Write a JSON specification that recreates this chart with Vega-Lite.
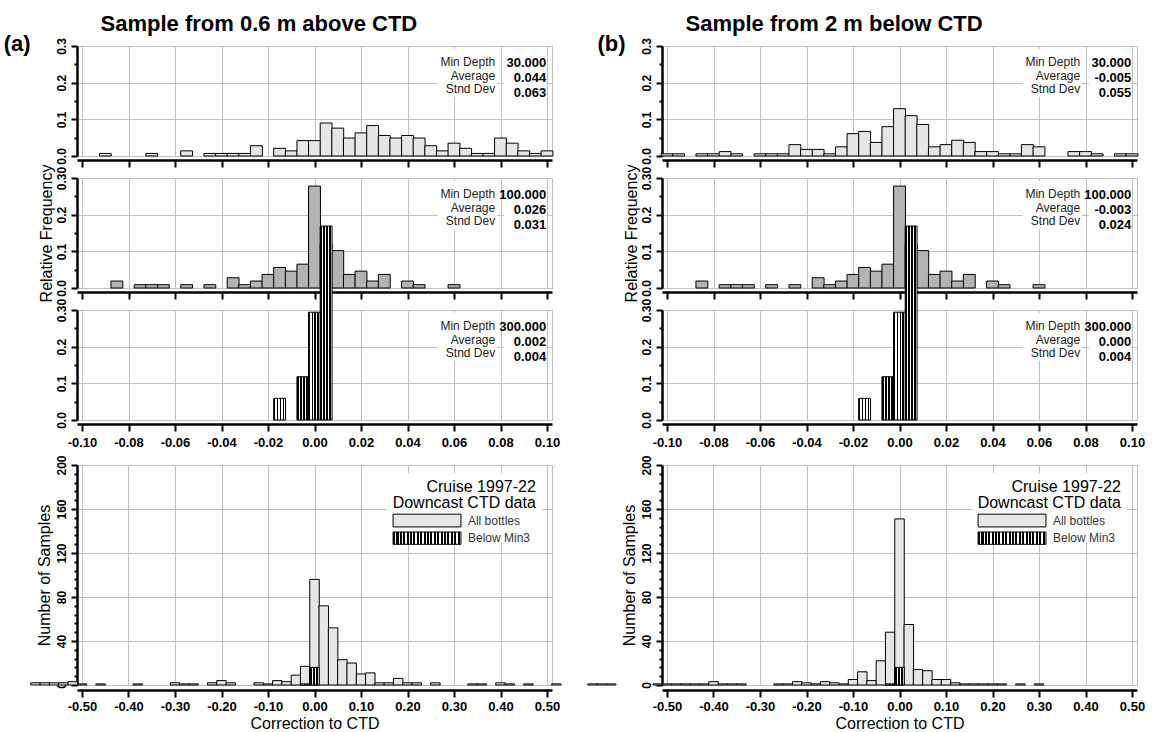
{
  "$schema": "https://vega.github.io/schema/vega-lite/v6.json",
  "background": "white",
  "padding": {"left": 3, "top": 12, "right": 4, "bottom": 4},
  "config": {
    "font": "Liberation Sans",
    "view": {"stroke": "#c0c0c0", "strokeWidth": 1},
    "axis": {
      "domainColor": "#000", "domainWidth": 2.5,
      "tickColor": "#000", "tickWidth": 2,
      "gridColor": "#c0c0c0", "gridWidth": 1,
      "labelFont": "Liberation Sans", "labelFontWeight": "bold", "labelColor": "#000",
      "titleFont": "Liberation Sans", "titleFontWeight": "normal", "titleColor": "#000",
      "labelFlush": false, "labelOverlap": false, "tickCount": 100
    },
    "axisY": {"labelFontSize": 12},
    "text": {"font": "Liberation Sans", "color": "#000"}
  },
  "datasets": {
    "a30": [
      {"x": -0.09, "freq": 0.007}, {"x": -0.07, "freq": 0.007}, {"x": -0.055, "freq": 0.014},
      {"x": -0.045, "freq": 0.007}, {"x": -0.04, "freq": 0.007}, {"x": -0.035, "freq": 0.007},
      {"x": -0.03, "freq": 0.007}, {"x": -0.025, "freq": 0.028}, {"x": -0.015, "freq": 0.021},
      {"x": -0.01, "freq": 0.014}, {"x": -0.005, "freq": 0.042}, {"x": 0, "freq": 0.042},
      {"x": 0.005, "freq": 0.09}, {"x": 0.01, "freq": 0.076}, {"x": 0.015, "freq": 0.049},
      {"x": 0.02, "freq": 0.063}, {"x": 0.025, "freq": 0.083}, {"x": 0.03, "freq": 0.056},
      {"x": 0.035, "freq": 0.049}, {"x": 0.04, "freq": 0.056}, {"x": 0.045, "freq": 0.049},
      {"x": 0.05, "freq": 0.028}, {"x": 0.055, "freq": 0.014}, {"x": 0.06, "freq": 0.035},
      {"x": 0.065, "freq": 0.021}, {"x": 0.07, "freq": 0.007}, {"x": 0.075, "freq": 0.007},
      {"x": 0.08, "freq": 0.049}, {"x": 0.085, "freq": 0.035}, {"x": 0.09, "freq": 0.014},
      {"x": 0.095, "freq": 0.007}, {"x": 0.1, "freq": 0.014}
    ],
    "b30": [
      {"x": -0.1, "freq": 0.006}, {"x": -0.095, "freq": 0.006}, {"x": -0.085, "freq": 0.006},
      {"x": -0.08, "freq": 0.006}, {"x": -0.075, "freq": 0.012}, {"x": -0.07, "freq": 0.006},
      {"x": -0.06, "freq": 0.006}, {"x": -0.055, "freq": 0.006}, {"x": -0.05, "freq": 0.006},
      {"x": -0.045, "freq": 0.031}, {"x": -0.04, "freq": 0.018}, {"x": -0.035, "freq": 0.018},
      {"x": -0.03, "freq": 0.006}, {"x": -0.025, "freq": 0.025}, {"x": -0.02, "freq": 0.061},
      {"x": -0.015, "freq": 0.067}, {"x": -0.01, "freq": 0.037}, {"x": -0.005, "freq": 0.08},
      {"x": 0, "freq": 0.129}, {"x": 0.005, "freq": 0.11}, {"x": 0.01, "freq": 0.086},
      {"x": 0.015, "freq": 0.025}, {"x": 0.02, "freq": 0.031}, {"x": 0.025, "freq": 0.043},
      {"x": 0.03, "freq": 0.037}, {"x": 0.035, "freq": 0.012}, {"x": 0.04, "freq": 0.012},
      {"x": 0.045, "freq": 0.006}, {"x": 0.05, "freq": 0.006}, {"x": 0.055, "freq": 0.031},
      {"x": 0.06, "freq": 0.025}, {"x": 0.075, "freq": 0.012}, {"x": 0.08, "freq": 0.012},
      {"x": 0.085, "freq": 0.006}, {"x": 0.095, "freq": 0.006}, {"x": 0.1, "freq": 0.006}
    ],
    "d100": [
      {"x": -0.085, "freq": 0.019}, {"x": -0.075, "freq": 0.009}, {"x": -0.07, "freq": 0.009},
      {"x": -0.065, "freq": 0.009}, {"x": -0.055, "freq": 0.009}, {"x": -0.045, "freq": 0.009},
      {"x": -0.035, "freq": 0.028}, {"x": -0.03, "freq": 0.009}, {"x": -0.025, "freq": 0.019},
      {"x": -0.02, "freq": 0.037}, {"x": -0.015, "freq": 0.056}, {"x": -0.01, "freq": 0.046},
      {"x": -0.005, "freq": 0.065}, {"x": 0, "freq": 0.278}, {"x": 0.005, "freq": 0.12},
      {"x": 0.01, "freq": 0.102}, {"x": 0.015, "freq": 0.037}, {"x": 0.02, "freq": 0.046},
      {"x": 0.025, "freq": 0.019}, {"x": 0.03, "freq": 0.037}, {"x": 0.04, "freq": 0.019},
      {"x": 0.045, "freq": 0.009}, {"x": 0.06, "freq": 0.009}
    ],
    "d300": [
      {"x": -0.015, "freq": 0.059}, {"x": -0.005, "freq": 0.118},
      {"x": 0, "freq": 0.294}, {"x": 0.005, "freq": 0.529}
    ],
    "aAll": [
      {"x": -0.6, "n": 2}, {"x": -0.58, "n": 2}, {"x": -0.56, "n": 2}, {"x": -0.54, "n": 2},
      {"x": -0.52, "n": 3}, {"x": -0.5, "n": 1}, {"x": -0.46, "n": 1}, {"x": -0.38, "n": 1},
      {"x": -0.3, "n": 2}, {"x": -0.28, "n": 1}, {"x": -0.26, "n": 1}, {"x": -0.22, "n": 2},
      {"x": -0.2, "n": 4}, {"x": -0.18, "n": 2}, {"x": -0.12, "n": 2}, {"x": -0.1, "n": 1},
      {"x": -0.08, "n": 4}, {"x": -0.06, "n": 3}, {"x": -0.04, "n": 9}, {"x": -0.02, "n": 17},
      {"x": 0, "n": 96}, {"x": 0.02, "n": 72}, {"x": 0.04, "n": 52}, {"x": 0.06, "n": 23},
      {"x": 0.08, "n": 20}, {"x": 0.1, "n": 10}, {"x": 0.12, "n": 11}, {"x": 0.14, "n": 2},
      {"x": 0.16, "n": 2}, {"x": 0.18, "n": 6}, {"x": 0.2, "n": 2}, {"x": 0.22, "n": 2},
      {"x": 0.26, "n": 2}, {"x": 0.34, "n": 1}, {"x": 0.36, "n": 1}, {"x": 0.4, "n": 2},
      {"x": 0.42, "n": 1}, {"x": 0.46, "n": 1}, {"x": 0.52, "n": 1}
    ],
    "bAll": [
      {"x": -0.66, "n": 1}, {"x": -0.64, "n": 1}, {"x": -0.62, "n": 1}, {"x": -0.52, "n": 1},
      {"x": -0.5, "n": 1}, {"x": -0.48, "n": 1}, {"x": -0.46, "n": 1}, {"x": -0.44, "n": 1},
      {"x": -0.42, "n": 1}, {"x": -0.4, "n": 3}, {"x": -0.38, "n": 1}, {"x": -0.36, "n": 1},
      {"x": -0.34, "n": 1}, {"x": -0.26, "n": 1}, {"x": -0.24, "n": 1}, {"x": -0.22, "n": 3},
      {"x": -0.2, "n": 2}, {"x": -0.18, "n": 1}, {"x": -0.16, "n": 3}, {"x": -0.14, "n": 2},
      {"x": -0.12, "n": 1}, {"x": -0.1, "n": 5}, {"x": -0.08, "n": 12}, {"x": -0.06, "n": 4},
      {"x": -0.04, "n": 22}, {"x": -0.02, "n": 48}, {"x": 0, "n": 151}, {"x": 0.02, "n": 55},
      {"x": 0.04, "n": 14}, {"x": 0.06, "n": 13}, {"x": 0.08, "n": 5}, {"x": 0.1, "n": 5},
      {"x": 0.12, "n": 2}, {"x": 0.14, "n": 1}, {"x": 0.16, "n": 1}, {"x": 0.18, "n": 1},
      {"x": 0.2, "n": 1}, {"x": 0.22, "n": 1}, {"x": 0.26, "n": 1}, {"x": 0.3, "n": 1}
    ],
    "min3": [{"x": -0.02, "n": 1}, {"x": 0, "n": 16}]
  },
  "columns": 2,
  "spacing": {"row": 22, "column": 110},
  "bounds": "flush",
  "concat": [
    {
      "width": 475, "height": 110,
      "data": {"name": "a30"},
      "layer": [
        {
          "mark": {"type": "bar", "orient": "vertical", "width": 11.875, "fill": "#e6e6e6", "stroke": "#000", "strokeWidth": 1},
          "encoding": {
            "x": {"field": "x", "type": "quantitative", "scale": {"domain": [-0.1, 0.1], "nice": false, "zero": false},
              "axis": {"values": [-0.1, -0.08, -0.06, -0.04, -0.02, 0, 0.02, 0.04, 0.06, 0.08, 0.1], "labels": false, "offset": 4, "tickSize": 7, "title": null}},
            "y": {"field": "freq", "type": "quantitative", "scale": {"domain": [0, 0.3], "nice": false},
              "axis": {"values": [0, 0.05, 0.1, 0.15, 0.2, 0.25, 0.3],
                "labelExpr": "abs(datum.value*10-round(datum.value*10))<0.001 ? format(datum.value,'.1f') : ''",
                "tickSize": {"condition": {"test": "abs(datum.value*10-round(datum.value*10))<0.001", "value": 6}, "value": 3},
                "gridOpacity": {"condition": {"test": "abs(datum.value*10-round(datum.value*10))<0.001", "value": 1}, "value": 0},
                "labelAngle": -90, "labelAlign": "center", "labelBaseline": "bottom", "labelPadding": 3, "title": null}}
          }
        },
        {"data": {"values": [{}]}, "mark": {"type": "rect", "fill": "white"},
          "encoding": {"x": {"datum": 0.053, "type": "quantitative"}, "x2": {"datum": 0.0785}, "y": {"datum": 0.16, "type": "quantitative"}, "y2": {"datum": 0.292}}},
        {"data": {"values": [{}]}, "mark": {"type": "rect", "fill": "white"},
          "encoding": {"x": {"datum": 0.0815, "type": "quantitative"}, "x2": {"datum": 0.0998}, "y": {"datum": 0.16, "type": "quantitative"}, "y2": {"datum": 0.292}}},
        {"data": {"values": [{}]}, "mark": {"type": "text", "text": ["Min Depth", "Average", "Stnd Dev"], "align": "right", "baseline": "middle", "fontSize": 12, "lineHeight": 13.7, "color": "#222"},
          "encoding": {"x": {"datum": 0.0777, "type": "quantitative"}, "y": {"datum": 0.2564, "type": "quantitative"}}},
        {"data": {"values": [{}]}, "mark": {"type": "text", "text": ["30.000", "0.044", "0.063"], "align": "right", "baseline": "middle", "fontSize": 13, "fontWeight": "bold", "lineHeight": 14.8},
          "encoding": {"x": {"datum": 0.0997, "type": "quantitative"}, "y": {"datum": 0.2536, "type": "quantitative"}}},
        {"data": {"values": [{}]}, "mark": {"type": "text", "text": "Sample from 0.6 m above CTD", "align": "left", "baseline": "alphabetic", "fontSize": 22, "fontWeight": "bold"},
          "encoding": {"x": {"datum": -0.092, "type": "quantitative"}, "y": {"datum": 0.342, "type": "quantitative"}}},
        {"data": {"values": [{}]}, "mark": {"type": "text", "text": "(a)", "align": "left", "baseline": "alphabetic", "fontSize": 22, "fontWeight": "bold"},
          "encoding": {"x": {"datum": -0.1337, "type": "quantitative"}, "y": {"datum": 0.2864, "type": "quantitative"}}}
      ]
    },
    {
      "width": 475, "height": 110,
      "data": {"name": "b30"},
      "layer": [
        {
          "mark": {"type": "bar", "orient": "vertical", "width": 11.875, "fill": "#e6e6e6", "stroke": "#000", "strokeWidth": 1},
          "encoding": {
            "x": {"field": "x", "type": "quantitative", "scale": {"domain": [-0.1, 0.1], "nice": false, "zero": false},
              "axis": {"values": [-0.1, -0.08, -0.06, -0.04, -0.02, 0, 0.02, 0.04, 0.06, 0.08, 0.1], "labels": false, "offset": 4, "tickSize": 7, "title": null}},
            "y": {"field": "freq", "type": "quantitative", "scale": {"domain": [0, 0.3], "nice": false},
              "axis": {"values": [0, 0.05, 0.1, 0.15, 0.2, 0.25, 0.3],
                "labelExpr": "abs(datum.value*10-round(datum.value*10))<0.001 ? format(datum.value,'.1f') : ''",
                "tickSize": {"condition": {"test": "abs(datum.value*10-round(datum.value*10))<0.001", "value": 6}, "value": 3},
                "gridOpacity": {"condition": {"test": "abs(datum.value*10-round(datum.value*10))<0.001", "value": 1}, "value": 0},
                "labelAngle": -90, "labelAlign": "center", "labelBaseline": "bottom", "labelPadding": 3, "title": null}}
          }
        },
        {"data": {"values": [{}]}, "mark": {"type": "rect", "fill": "white"},
          "encoding": {"x": {"datum": 0.053, "type": "quantitative"}, "x2": {"datum": 0.0785}, "y": {"datum": 0.16, "type": "quantitative"}, "y2": {"datum": 0.292}}},
        {"data": {"values": [{}]}, "mark": {"type": "rect", "fill": "white"},
          "encoding": {"x": {"datum": 0.0815, "type": "quantitative"}, "x2": {"datum": 0.0998}, "y": {"datum": 0.16, "type": "quantitative"}, "y2": {"datum": 0.292}}},
        {"data": {"values": [{}]}, "mark": {"type": "text", "text": ["Min Depth", "Average", "Stnd Dev"], "align": "right", "baseline": "middle", "fontSize": 12, "lineHeight": 13.7, "color": "#222"},
          "encoding": {"x": {"datum": 0.0777, "type": "quantitative"}, "y": {"datum": 0.2564, "type": "quantitative"}}},
        {"data": {"values": [{}]}, "mark": {"type": "text", "text": ["30.000", "-0.005", "0.055"], "align": "right", "baseline": "middle", "fontSize": 13, "fontWeight": "bold", "lineHeight": 14.8},
          "encoding": {"x": {"datum": 0.0997, "type": "quantitative"}, "y": {"datum": 0.2536, "type": "quantitative"}}},
        {"data": {"values": [{}]}, "mark": {"type": "text", "text": "Sample from 2 m below CTD", "align": "left", "baseline": "alphabetic", "fontSize": 22, "fontWeight": "bold"},
          "encoding": {"x": {"datum": -0.092, "type": "quantitative"}, "y": {"datum": 0.342, "type": "quantitative"}}},
        {"data": {"values": [{}]}, "mark": {"type": "text", "text": "(b)", "align": "left", "baseline": "alphabetic", "fontSize": 22, "fontWeight": "bold"},
          "encoding": {"x": {"datum": -0.1299, "type": "quantitative"}, "y": {"datum": 0.2864, "type": "quantitative"}}}
      ]
    },
    {
      "width": 475, "height": 110,
      "data": {"name": "d100"},
      "layer": [
        {
          "mark": {"type": "bar", "orient": "vertical", "width": 11.875, "fill": "#b3b3b3", "stroke": "#000", "strokeWidth": 1},
          "encoding": {
            "x": {"field": "x", "type": "quantitative", "scale": {"domain": [-0.1, 0.1], "nice": false, "zero": false},
              "axis": {"values": [-0.1, -0.08, -0.06, -0.04, -0.02, 0, 0.02, 0.04, 0.06, 0.08, 0.1], "labels": false, "offset": 4, "tickSize": 7, "title": null}},
            "y": {"field": "freq", "type": "quantitative", "scale": {"domain": [0, 0.3], "nice": false},
              "axis": {"values": [0, 0.05, 0.1, 0.15, 0.2, 0.25, 0.3],
                "labelExpr": "datum.value > 0.29 ? '0.30' : abs(datum.value*10-round(datum.value*10))<0.001 ? format(datum.value,'.1f') : ''",
                "tickSize": {"condition": {"test": "abs(datum.value*10-round(datum.value*10))<0.001", "value": 6}, "value": 3},
                "gridOpacity": {"condition": {"test": "abs(datum.value*10-round(datum.value*10))<0.001", "value": 1}, "value": 0},
                "labelAngle": -90, "labelAlign": "center", "labelBaseline": "bottom", "labelPadding": 3,
                "title": "Relative Frequency", "titleFontSize": 16, "titlePadding": 1}}
          }
        },
        {"data": {"values": [{}]}, "mark": {"type": "rect", "fill": "white"},
          "encoding": {"x": {"datum": 0.053, "type": "quantitative"}, "x2": {"datum": 0.0785}, "y": {"datum": 0.16, "type": "quantitative"}, "y2": {"datum": 0.292}}},
        {"data": {"values": [{}]}, "mark": {"type": "rect", "fill": "white"},
          "encoding": {"x": {"datum": 0.0815, "type": "quantitative"}, "x2": {"datum": 0.0998}, "y": {"datum": 0.16, "type": "quantitative"}, "y2": {"datum": 0.292}}},
        {"data": {"values": [{}]}, "mark": {"type": "text", "text": ["Min Depth", "Average", "Stnd Dev"], "align": "right", "baseline": "middle", "fontSize": 12, "lineHeight": 13.7, "color": "#222"},
          "encoding": {"x": {"datum": 0.0777, "type": "quantitative"}, "y": {"datum": 0.2564, "type": "quantitative"}}},
        {"data": {"values": [{}]}, "mark": {"type": "text", "text": ["100.000", "0.026", "0.031"], "align": "right", "baseline": "middle", "fontSize": 13, "fontWeight": "bold", "lineHeight": 14.8},
          "encoding": {"x": {"datum": 0.0997, "type": "quantitative"}, "y": {"datum": 0.2536, "type": "quantitative"}}}
      ]
    },
    {
      "width": 475, "height": 110,
      "data": {"name": "d100"},
      "layer": [
        {
          "mark": {"type": "bar", "orient": "vertical", "width": 11.875, "fill": "#b3b3b3", "stroke": "#000", "strokeWidth": 1},
          "encoding": {
            "x": {"field": "x", "type": "quantitative", "scale": {"domain": [-0.1, 0.1], "nice": false, "zero": false},
              "axis": {"values": [-0.1, -0.08, -0.06, -0.04, -0.02, 0, 0.02, 0.04, 0.06, 0.08, 0.1], "labels": false, "offset": 4, "tickSize": 7, "title": null}},
            "y": {"field": "freq", "type": "quantitative", "scale": {"domain": [0, 0.3], "nice": false},
              "axis": {"values": [0, 0.05, 0.1, 0.15, 0.2, 0.25, 0.3],
                "labelExpr": "datum.value > 0.29 ? '0.30' : abs(datum.value*10-round(datum.value*10))<0.001 ? format(datum.value,'.1f') : ''",
                "tickSize": {"condition": {"test": "abs(datum.value*10-round(datum.value*10))<0.001", "value": 6}, "value": 3},
                "gridOpacity": {"condition": {"test": "abs(datum.value*10-round(datum.value*10))<0.001", "value": 1}, "value": 0},
                "labelAngle": -90, "labelAlign": "center", "labelBaseline": "bottom", "labelPadding": 3,
                "title": "Relative Frequency", "titleFontSize": 16, "titlePadding": 1}}
          }
        },
        {"data": {"values": [{}]}, "mark": {"type": "rect", "fill": "white"},
          "encoding": {"x": {"datum": 0.053, "type": "quantitative"}, "x2": {"datum": 0.0785}, "y": {"datum": 0.16, "type": "quantitative"}, "y2": {"datum": 0.292}}},
        {"data": {"values": [{}]}, "mark": {"type": "rect", "fill": "white"},
          "encoding": {"x": {"datum": 0.0815, "type": "quantitative"}, "x2": {"datum": 0.0998}, "y": {"datum": 0.16, "type": "quantitative"}, "y2": {"datum": 0.292}}},
        {"data": {"values": [{}]}, "mark": {"type": "text", "text": ["Min Depth", "Average", "Stnd Dev"], "align": "right", "baseline": "middle", "fontSize": 12, "lineHeight": 13.7, "color": "#222"},
          "encoding": {"x": {"datum": 0.0777, "type": "quantitative"}, "y": {"datum": 0.2564, "type": "quantitative"}}},
        {"data": {"values": [{}]}, "mark": {"type": "text", "text": ["100.000", "-0.003", "0.024"], "align": "right", "baseline": "middle", "fontSize": 13, "fontWeight": "bold", "lineHeight": 14.8},
          "encoding": {"x": {"datum": 0.0997, "type": "quantitative"}, "y": {"datum": 0.2536, "type": "quantitative"}}}
      ]
    },
    {
      "width": 475, "height": 110,
      "data": {"name": "d300"},
      "layer": [
        {
          "mark": {"type": "bar", "orient": "vertical", "width": 11.875, "stroke": "#000", "strokeWidth": 1,
            "fill": {"gradient": "linear", "x1": 0, "y1": 0, "x2": 1, "y2": 0, "stops": [
              {"offset": 0, "color": "#000"}, {"offset": 0.15, "color": "#000"}, {"offset": 0.15, "color": "#fff"}, {"offset": 0.25, "color": "#fff"},
              {"offset": 0.25, "color": "#000"}, {"offset": 0.4, "color": "#000"}, {"offset": 0.4, "color": "#fff"}, {"offset": 0.5, "color": "#fff"},
              {"offset": 0.5, "color": "#000"}, {"offset": 0.65, "color": "#000"}, {"offset": 0.65, "color": "#fff"}, {"offset": 0.75, "color": "#fff"},
              {"offset": 0.75, "color": "#000"}, {"offset": 0.9, "color": "#000"}, {"offset": 0.9, "color": "#fff"}, {"offset": 1, "color": "#fff"}]}},
          "encoding": {
            "x": {"field": "x", "type": "quantitative", "scale": {"domain": [-0.1, 0.1], "nice": false, "zero": false},
              "axis": {"values": [-0.1, -0.08, -0.06, -0.04, -0.02, 0, 0.02, 0.04, 0.06, 0.08, 0.1],
                "labelExpr": "replace(format(datum.value, '.2f'), '\u2212', '-')", "labelFontSize": 13, "labelPadding": 5, "offset": 4, "tickSize": 7, "title": null}},
            "y": {"field": "freq", "type": "quantitative", "scale": {"domain": [0, 0.3], "nice": false},
              "axis": {"values": [0, 0.05, 0.1, 0.15, 0.2, 0.25, 0.3],
                "labelExpr": "datum.value > 0.29 ? '0.30' : abs(datum.value*10-round(datum.value*10))<0.001 ? format(datum.value,'.1f') : ''",
                "tickSize": {"condition": {"test": "abs(datum.value*10-round(datum.value*10))<0.001", "value": 6}, "value": 3},
                "gridOpacity": {"condition": {"test": "abs(datum.value*10-round(datum.value*10))<0.001", "value": 1}, "value": 0},
                "labelAngle": -90, "labelAlign": "center", "labelBaseline": "bottom", "labelPadding": 3, "title": null}}
          }
        },
        {"data": {"values": [{}]}, "mark": {"type": "rect", "fill": "white"},
          "encoding": {"x": {"datum": 0.053, "type": "quantitative"}, "x2": {"datum": 0.0785}, "y": {"datum": 0.16, "type": "quantitative"}, "y2": {"datum": 0.292}}},
        {"data": {"values": [{}]}, "mark": {"type": "rect", "fill": "white"},
          "encoding": {"x": {"datum": 0.0815, "type": "quantitative"}, "x2": {"datum": 0.0998}, "y": {"datum": 0.16, "type": "quantitative"}, "y2": {"datum": 0.292}}},
        {"data": {"values": [{}]}, "mark": {"type": "text", "text": ["Min Depth", "Average", "Stnd Dev"], "align": "right", "baseline": "middle", "fontSize": 12, "lineHeight": 13.7, "color": "#222"},
          "encoding": {"x": {"datum": 0.0777, "type": "quantitative"}, "y": {"datum": 0.2564, "type": "quantitative"}}},
        {"data": {"values": [{}]}, "mark": {"type": "text", "text": ["300.000", "0.002", "0.004"], "align": "right", "baseline": "middle", "fontSize": 13, "fontWeight": "bold", "lineHeight": 14.8},
          "encoding": {"x": {"datum": 0.0997, "type": "quantitative"}, "y": {"datum": 0.2536, "type": "quantitative"}}}
      ]
    },
    {
      "width": 475, "height": 110,
      "data": {"name": "d300"},
      "layer": [
        {
          "mark": {"type": "bar", "orient": "vertical", "width": 11.875, "stroke": "#000", "strokeWidth": 1,
            "fill": {"gradient": "linear", "x1": 0, "y1": 0, "x2": 1, "y2": 0, "stops": [
              {"offset": 0, "color": "#000"}, {"offset": 0.15, "color": "#000"}, {"offset": 0.15, "color": "#fff"}, {"offset": 0.25, "color": "#fff"},
              {"offset": 0.25, "color": "#000"}, {"offset": 0.4, "color": "#000"}, {"offset": 0.4, "color": "#fff"}, {"offset": 0.5, "color": "#fff"},
              {"offset": 0.5, "color": "#000"}, {"offset": 0.65, "color": "#000"}, {"offset": 0.65, "color": "#fff"}, {"offset": 0.75, "color": "#fff"},
              {"offset": 0.75, "color": "#000"}, {"offset": 0.9, "color": "#000"}, {"offset": 0.9, "color": "#fff"}, {"offset": 1, "color": "#fff"}]}},
          "encoding": {
            "x": {"field": "x", "type": "quantitative", "scale": {"domain": [-0.1, 0.1], "nice": false, "zero": false},
              "axis": {"values": [-0.1, -0.08, -0.06, -0.04, -0.02, 0, 0.02, 0.04, 0.06, 0.08, 0.1],
                "labelExpr": "replace(format(datum.value, '.2f'), '\u2212', '-')", "labelFontSize": 13, "labelPadding": 5, "offset": 4, "tickSize": 7, "title": null}},
            "y": {"field": "freq", "type": "quantitative", "scale": {"domain": [0, 0.3], "nice": false},
              "axis": {"values": [0, 0.05, 0.1, 0.15, 0.2, 0.25, 0.3],
                "labelExpr": "datum.value > 0.29 ? '0.30' : abs(datum.value*10-round(datum.value*10))<0.001 ? format(datum.value,'.1f') : ''",
                "tickSize": {"condition": {"test": "abs(datum.value*10-round(datum.value*10))<0.001", "value": 6}, "value": 3},
                "gridOpacity": {"condition": {"test": "abs(datum.value*10-round(datum.value*10))<0.001", "value": 1}, "value": 0},
                "labelAngle": -90, "labelAlign": "center", "labelBaseline": "bottom", "labelPadding": 3, "title": null}}
          }
        },
        {"data": {"values": [{}]}, "mark": {"type": "rect", "fill": "white"},
          "encoding": {"x": {"datum": 0.053, "type": "quantitative"}, "x2": {"datum": 0.0785}, "y": {"datum": 0.16, "type": "quantitative"}, "y2": {"datum": 0.292}}},
        {"data": {"values": [{}]}, "mark": {"type": "rect", "fill": "white"},
          "encoding": {"x": {"datum": 0.0815, "type": "quantitative"}, "x2": {"datum": 0.0998}, "y": {"datum": 0.16, "type": "quantitative"}, "y2": {"datum": 0.292}}},
        {"data": {"values": [{}]}, "mark": {"type": "text", "text": ["Min Depth", "Average", "Stnd Dev"], "align": "right", "baseline": "middle", "fontSize": 12, "lineHeight": 13.7, "color": "#222"},
          "encoding": {"x": {"datum": 0.0777, "type": "quantitative"}, "y": {"datum": 0.2564, "type": "quantitative"}}},
        {"data": {"values": [{}]}, "mark": {"type": "text", "text": ["300.000", "0.000", "0.004"], "align": "right", "baseline": "middle", "fontSize": 13, "fontWeight": "bold", "lineHeight": 14.8},
          "encoding": {"x": {"datum": 0.0997, "type": "quantitative"}, "y": {"datum": 0.2536, "type": "quantitative"}}}
      ]
    },
    {"width": 475, "height": 0.01, "view": {"stroke": null}, "data": {"values": []}, "mark": "point"},
    {"width": 475, "height": 0.01, "view": {"stroke": null}, "data": {"values": []}, "mark": "point"},
    {
      "width": 475, "height": 220,
      "data": {"name": "aAll"},
      "layer": [
        {
          "mark": {"type": "bar", "orient": "vertical", "width": 9.5, "fill": "#e6e6e6", "stroke": "#000", "strokeWidth": 1},
          "encoding": {
            "x": {"field": "x", "type": "quantitative", "scale": {"domain": [-0.5, 0.5], "nice": false, "zero": false},
              "axis": {"values": [-0.5, -0.4, -0.3, -0.2, -0.1, 0, 0.1, 0.2, 0.3, 0.4, 0.5],
                "labelExpr": "replace(format(datum.value, '.2f'), '\u2212', '-')", "labelFontSize": 13, "labelPadding": 3, "offset": 5, "tickSize": 7,
                "title": "Correction to CTD", "titleFontSize": 16, "titlePadding": 2}},
            "y": {"field": "n", "type": "quantitative", "scale": {"domain": [0, 200], "nice": false},
              "axis": {"values": [0, 8, 16, 24, 32, 40, 48, 56, 64, 72, 80, 88, 96, 104, 112, 120, 128, 136, 144, 152, 160, 168, 176, 184, 192, 200],
                "labelExpr": "datum.value % 40 === 0 ? format(datum.value,'d') : ''",
                "tickSize": {"condition": {"test": "datum.value % 40 === 0", "value": 6}, "value": 3},
                "gridOpacity": {"condition": {"test": "datum.value % 40 === 0", "value": 1}, "value": 0},
                "labelAngle": -90, "labelAlign": "center", "labelBaseline": "bottom", "labelPadding": 3,
                "title": "Number of Samples", "titleFontSize": 16, "titlePadding": 3}}
          }
        },
        {
          "data": {"name": "min3"},
          "mark": {"type": "bar", "orient": "vertical", "width": 9.5, "stroke": "#000", "strokeWidth": 1,
            "fill": {"gradient": "linear", "x1": 0, "y1": 0, "x2": 1, "y2": 0, "stops": [
              {"offset": 0, "color": "#000"}, {"offset": 0.2, "color": "#000"}, {"offset": 0.2, "color": "#fff"}, {"offset": 0.333, "color": "#fff"},
              {"offset": 0.333, "color": "#000"}, {"offset": 0.533, "color": "#000"}, {"offset": 0.533, "color": "#fff"}, {"offset": 0.667, "color": "#fff"},
              {"offset": 0.667, "color": "#000"}, {"offset": 0.867, "color": "#000"}, {"offset": 0.867, "color": "#fff"}, {"offset": 1, "color": "#fff"}]}},
          "encoding": {"x": {"field": "x", "type": "quantitative"}, "y": {"field": "n", "type": "quantitative"}}
        },
        {"data": {"values": [{}]}, "mark": {"type": "rect", "fill": "white"},
          "encoding": {"x": {"datum": 0.156, "type": "quantitative"}, "x2": {"datum": 0.4895}, "y": {"datum": 130, "type": "quantitative"}, "y2": {"datum": 192.4}}},
        {"data": {"values": [{}]}, "mark": {"type": "text", "text": ["Cruise 1997-22", "Downcast CTD data"], "align": "right", "baseline": "middle", "fontSize": 16, "lineHeight": 16.7},
          "encoding": {"x": {"datum": 0.476, "type": "quantitative"}, "y": {"datum": 180.2, "type": "quantitative"}}},
        {"data": {"values": [{}]}, "mark": {"type": "rect", "fill": "#e6e6e6", "stroke": "#000", "strokeWidth": 1},
          "encoding": {"x": {"datum": 0.169, "type": "quantitative"}, "x2": {"datum": 0.315}, "y": {"datum": 143.7, "type": "quantitative"}, "y2": {"datum": 155.3}}},
        {"data": {"values": [{}]}, "mark": {"type": "rect", "stroke": "#000", "strokeWidth": 1,
            "fill": {"gradient": "linear", "x1": 0, "y1": 0, "x2": 1, "y2": 0, "stops": [
              {"offset": 0, "color": "#000"}, {"offset": 0.03, "color": "#000"}, {"offset": 0.03, "color": "#fff"}, {"offset": 0.05, "color": "#fff"},
              {"offset": 0.05, "color": "#000"}, {"offset": 0.08, "color": "#000"}, {"offset": 0.08, "color": "#fff"}, {"offset": 0.1, "color": "#fff"},
              {"offset": 0.1, "color": "#000"}, {"offset": 0.13, "color": "#000"}, {"offset": 0.13, "color": "#fff"}, {"offset": 0.15, "color": "#fff"},
              {"offset": 0.15, "color": "#000"}, {"offset": 0.18, "color": "#000"}, {"offset": 0.18, "color": "#fff"}, {"offset": 0.2, "color": "#fff"},
              {"offset": 0.2, "color": "#000"}, {"offset": 0.23, "color": "#000"}, {"offset": 0.23, "color": "#fff"}, {"offset": 0.25, "color": "#fff"},
              {"offset": 0.25, "color": "#000"}, {"offset": 0.28, "color": "#000"}, {"offset": 0.28, "color": "#fff"}, {"offset": 0.3, "color": "#fff"},
              {"offset": 0.3, "color": "#000"}, {"offset": 0.33, "color": "#000"}, {"offset": 0.33, "color": "#fff"}, {"offset": 0.35, "color": "#fff"},
              {"offset": 0.35, "color": "#000"}, {"offset": 0.38, "color": "#000"}, {"offset": 0.38, "color": "#fff"}, {"offset": 0.4, "color": "#fff"},
              {"offset": 0.4, "color": "#000"}, {"offset": 0.43, "color": "#000"}, {"offset": 0.43, "color": "#fff"}, {"offset": 0.45, "color": "#fff"},
              {"offset": 0.45, "color": "#000"}, {"offset": 0.48, "color": "#000"}, {"offset": 0.48, "color": "#fff"}, {"offset": 0.5, "color": "#fff"},
              {"offset": 0.5, "color": "#000"}, {"offset": 0.53, "color": "#000"}, {"offset": 0.53, "color": "#fff"}, {"offset": 0.55, "color": "#fff"},
              {"offset": 0.55, "color": "#000"}, {"offset": 0.58, "color": "#000"}, {"offset": 0.58, "color": "#fff"}, {"offset": 0.6, "color": "#fff"},
              {"offset": 0.6, "color": "#000"}, {"offset": 0.63, "color": "#000"}, {"offset": 0.63, "color": "#fff"}, {"offset": 0.65, "color": "#fff"},
              {"offset": 0.65, "color": "#000"}, {"offset": 0.68, "color": "#000"}, {"offset": 0.68, "color": "#fff"}, {"offset": 0.7, "color": "#fff"},
              {"offset": 0.7, "color": "#000"}, {"offset": 0.73, "color": "#000"}, {"offset": 0.73, "color": "#fff"}, {"offset": 0.75, "color": "#fff"},
              {"offset": 0.75, "color": "#000"}, {"offset": 0.78, "color": "#000"}, {"offset": 0.78, "color": "#fff"}, {"offset": 0.8, "color": "#fff"},
              {"offset": 0.8, "color": "#000"}, {"offset": 0.83, "color": "#000"}, {"offset": 0.83, "color": "#fff"}, {"offset": 0.85, "color": "#fff"},
              {"offset": 0.85, "color": "#000"}, {"offset": 0.88, "color": "#000"}, {"offset": 0.88, "color": "#fff"}, {"offset": 0.9, "color": "#fff"},
              {"offset": 0.9, "color": "#000"}, {"offset": 0.93, "color": "#000"}, {"offset": 0.93, "color": "#fff"}, {"offset": 0.95, "color": "#fff"},
              {"offset": 0.95, "color": "#000"}, {"offset": 0.98, "color": "#000"}, {"offset": 0.98, "color": "#fff"}, {"offset": 1, "color": "#fff"}]}},
          "encoding": {"x": {"datum": 0.169, "type": "quantitative"}, "x2": {"datum": 0.315}, "y": {"datum": 127.9, "type": "quantitative"}, "y2": {"datum": 139.1}}},
        {"data": {"values": [{}]}, "mark": {"type": "text", "text": "All bottles", "align": "left", "baseline": "middle", "fontSize": 12, "color": "#333"},
          "encoding": {"x": {"datum": 0.33, "type": "quantitative"}, "y": {"datum": 149.2, "type": "quantitative"}}},
        {"data": {"values": [{}]}, "mark": {"type": "text", "text": "Below Min3", "align": "left", "baseline": "middle", "fontSize": 12, "color": "#333"},
          "encoding": {"x": {"datum": 0.33, "type": "quantitative"}, "y": {"datum": 133.6, "type": "quantitative"}}}
      ]
    },
    {
      "width": 475, "height": 220,
      "data": {"name": "bAll"},
      "layer": [
        {
          "mark": {"type": "bar", "orient": "vertical", "width": 9.5, "fill": "#e6e6e6", "stroke": "#000", "strokeWidth": 1},
          "encoding": {
            "x": {"field": "x", "type": "quantitative", "scale": {"domain": [-0.5, 0.5], "nice": false, "zero": false},
              "axis": {"values": [-0.5, -0.4, -0.3, -0.2, -0.1, 0, 0.1, 0.2, 0.3, 0.4, 0.5],
                "labelExpr": "replace(format(datum.value, '.2f'), '\u2212', '-')", "labelFontSize": 13, "labelPadding": 3, "offset": 5, "tickSize": 7,
                "title": "Correction to CTD", "titleFontSize": 16, "titlePadding": 2}},
            "y": {"field": "n", "type": "quantitative", "scale": {"domain": [0, 200], "nice": false},
              "axis": {"values": [0, 8, 16, 24, 32, 40, 48, 56, 64, 72, 80, 88, 96, 104, 112, 120, 128, 136, 144, 152, 160, 168, 176, 184, 192, 200],
                "labelExpr": "datum.value % 40 === 0 ? format(datum.value,'d') : ''",
                "tickSize": {"condition": {"test": "datum.value % 40 === 0", "value": 6}, "value": 3},
                "gridOpacity": {"condition": {"test": "datum.value % 40 === 0", "value": 1}, "value": 0},
                "labelAngle": -90, "labelAlign": "center", "labelBaseline": "bottom", "labelPadding": 3,
                "title": "Number of Samples", "titleFontSize": 16, "titlePadding": 3}}
          }
        },
        {
          "data": {"name": "min3"},
          "mark": {"type": "bar", "orient": "vertical", "width": 9.5, "stroke": "#000", "strokeWidth": 1,
            "fill": {"gradient": "linear", "x1": 0, "y1": 0, "x2": 1, "y2": 0, "stops": [
              {"offset": 0, "color": "#000"}, {"offset": 0.2, "color": "#000"}, {"offset": 0.2, "color": "#fff"}, {"offset": 0.333, "color": "#fff"},
              {"offset": 0.333, "color": "#000"}, {"offset": 0.533, "color": "#000"}, {"offset": 0.533, "color": "#fff"}, {"offset": 0.667, "color": "#fff"},
              {"offset": 0.667, "color": "#000"}, {"offset": 0.867, "color": "#000"}, {"offset": 0.867, "color": "#fff"}, {"offset": 1, "color": "#fff"}]}},
          "encoding": {"x": {"field": "x", "type": "quantitative"}, "y": {"field": "n", "type": "quantitative"}}
        },
        {"data": {"values": [{}]}, "mark": {"type": "rect", "fill": "white"},
          "encoding": {"x": {"datum": 0.156, "type": "quantitative"}, "x2": {"datum": 0.4895}, "y": {"datum": 130, "type": "quantitative"}, "y2": {"datum": 192.4}}},
        {"data": {"values": [{}]}, "mark": {"type": "text", "text": ["Cruise 1997-22", "Downcast CTD data"], "align": "right", "baseline": "middle", "fontSize": 16, "lineHeight": 16.7},
          "encoding": {"x": {"datum": 0.476, "type": "quantitative"}, "y": {"datum": 180.2, "type": "quantitative"}}},
        {"data": {"values": [{}]}, "mark": {"type": "rect", "fill": "#e6e6e6", "stroke": "#000", "strokeWidth": 1},
          "encoding": {"x": {"datum": 0.169, "type": "quantitative"}, "x2": {"datum": 0.315}, "y": {"datum": 143.7, "type": "quantitative"}, "y2": {"datum": 155.3}}},
        {"data": {"values": [{}]}, "mark": {"type": "rect", "stroke": "#000", "strokeWidth": 1,
            "fill": {"gradient": "linear", "x1": 0, "y1": 0, "x2": 1, "y2": 0, "stops": [
              {"offset": 0, "color": "#000"}, {"offset": 0.03, "color": "#000"}, {"offset": 0.03, "color": "#fff"}, {"offset": 0.05, "color": "#fff"},
              {"offset": 0.05, "color": "#000"}, {"offset": 0.08, "color": "#000"}, {"offset": 0.08, "color": "#fff"}, {"offset": 0.1, "color": "#fff"},
              {"offset": 0.1, "color": "#000"}, {"offset": 0.13, "color": "#000"}, {"offset": 0.13, "color": "#fff"}, {"offset": 0.15, "color": "#fff"},
              {"offset": 0.15, "color": "#000"}, {"offset": 0.18, "color": "#000"}, {"offset": 0.18, "color": "#fff"}, {"offset": 0.2, "color": "#fff"},
              {"offset": 0.2, "color": "#000"}, {"offset": 0.23, "color": "#000"}, {"offset": 0.23, "color": "#fff"}, {"offset": 0.25, "color": "#fff"},
              {"offset": 0.25, "color": "#000"}, {"offset": 0.28, "color": "#000"}, {"offset": 0.28, "color": "#fff"}, {"offset": 0.3, "color": "#fff"},
              {"offset": 0.3, "color": "#000"}, {"offset": 0.33, "color": "#000"}, {"offset": 0.33, "color": "#fff"}, {"offset": 0.35, "color": "#fff"},
              {"offset": 0.35, "color": "#000"}, {"offset": 0.38, "color": "#000"}, {"offset": 0.38, "color": "#fff"}, {"offset": 0.4, "color": "#fff"},
              {"offset": 0.4, "color": "#000"}, {"offset": 0.43, "color": "#000"}, {"offset": 0.43, "color": "#fff"}, {"offset": 0.45, "color": "#fff"},
              {"offset": 0.45, "color": "#000"}, {"offset": 0.48, "color": "#000"}, {"offset": 0.48, "color": "#fff"}, {"offset": 0.5, "color": "#fff"},
              {"offset": 0.5, "color": "#000"}, {"offset": 0.53, "color": "#000"}, {"offset": 0.53, "color": "#fff"}, {"offset": 0.55, "color": "#fff"},
              {"offset": 0.55, "color": "#000"}, {"offset": 0.58, "color": "#000"}, {"offset": 0.58, "color": "#fff"}, {"offset": 0.6, "color": "#fff"},
              {"offset": 0.6, "color": "#000"}, {"offset": 0.63, "color": "#000"}, {"offset": 0.63, "color": "#fff"}, {"offset": 0.65, "color": "#fff"},
              {"offset": 0.65, "color": "#000"}, {"offset": 0.68, "color": "#000"}, {"offset": 0.68, "color": "#fff"}, {"offset": 0.7, "color": "#fff"},
              {"offset": 0.7, "color": "#000"}, {"offset": 0.73, "color": "#000"}, {"offset": 0.73, "color": "#fff"}, {"offset": 0.75, "color": "#fff"},
              {"offset": 0.75, "color": "#000"}, {"offset": 0.78, "color": "#000"}, {"offset": 0.78, "color": "#fff"}, {"offset": 0.8, "color": "#fff"},
              {"offset": 0.8, "color": "#000"}, {"offset": 0.83, "color": "#000"}, {"offset": 0.83, "color": "#fff"}, {"offset": 0.85, "color": "#fff"},
              {"offset": 0.85, "color": "#000"}, {"offset": 0.88, "color": "#000"}, {"offset": 0.88, "color": "#fff"}, {"offset": 0.9, "color": "#fff"},
              {"offset": 0.9, "color": "#000"}, {"offset": 0.93, "color": "#000"}, {"offset": 0.93, "color": "#fff"}, {"offset": 0.95, "color": "#fff"},
              {"offset": 0.95, "color": "#000"}, {"offset": 0.98, "color": "#000"}, {"offset": 0.98, "color": "#fff"}, {"offset": 1, "color": "#fff"}]}},
          "encoding": {"x": {"datum": 0.169, "type": "quantitative"}, "x2": {"datum": 0.315}, "y": {"datum": 127.9, "type": "quantitative"}, "y2": {"datum": 139.1}}},
        {"data": {"values": [{}]}, "mark": {"type": "text", "text": "All bottles", "align": "left", "baseline": "middle", "fontSize": 12, "color": "#333"},
          "encoding": {"x": {"datum": 0.33, "type": "quantitative"}, "y": {"datum": 149.2, "type": "quantitative"}}},
        {"data": {"values": [{}]}, "mark": {"type": "text", "text": "Below Min3", "align": "left", "baseline": "middle", "fontSize": 12, "color": "#333"},
          "encoding": {"x": {"datum": 0.33, "type": "quantitative"}, "y": {"datum": 133.6, "type": "quantitative"}}}
      ]
    }
  ]
}
